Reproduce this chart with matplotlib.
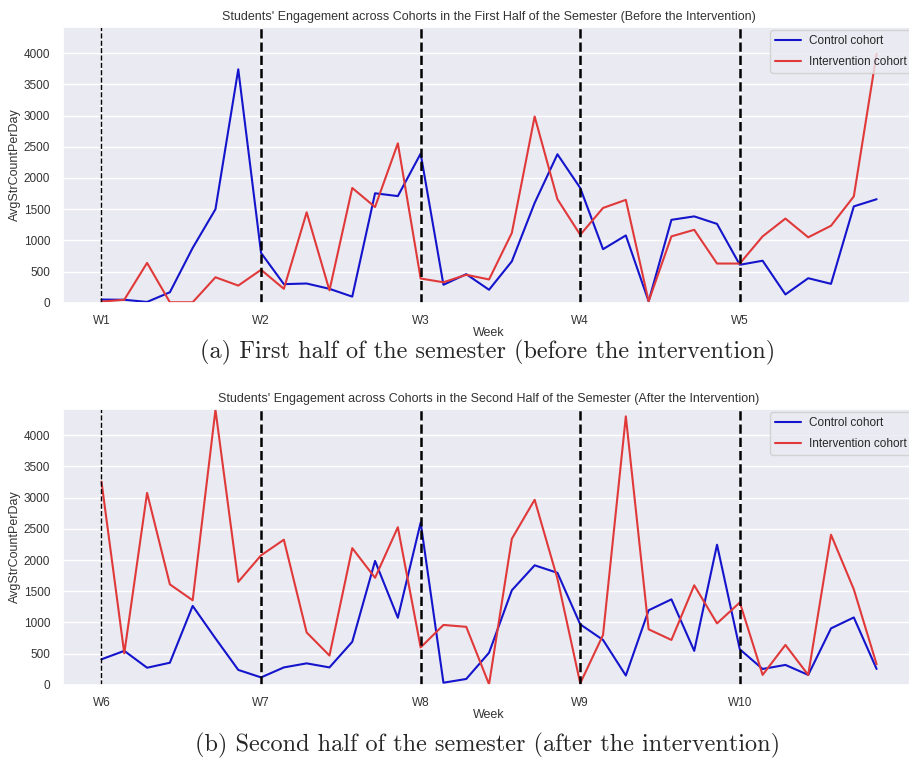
import numpy as np
import matplotlib.pyplot as plt
import seaborn as sns

sns.set_theme(style="darkgrid")
plt.rcParams["font.family"] = ["Liberation Sans", "DejaVu Sans"]

# daily points, 7 per week
days = np.arange(35)
week_days = [0, 7, 14, 21, 28]
weeks_first = ["W1", "W2", "W3", "W4", "W5"]
weeks_second = ["W6", "W7", "W8", "W9", "W10"]

control_first = [53, 50, 15, 170, 880, 1500, 3740, 800, 300, 310, 225, 100, 1755, 1710, 2390,
                 290, 460, 210, 665, 1600, 2380, 1840, 860, 1080, 25, 1330, 1385, 1265, 610,
                 675, 135, 395, 305, 1545, 1660]
intervention_first = [20, 50, 640, 10, 10, 410, 277, 530, 225, 1450, 200, 1840, 1535, 2555, 390,
                      330, 450, 375, 1120, 2985, 1660, 1090, 1520, 1650, 25, 1065, 1170, 630, 630,
                      1065, 1350, 1050, 1235, 1705, 3990]
control_second = [410, 545, 275, 355, 1265, 745, 240, 120, 280, 345, 280, 690, 1985, 1075, 2600,
                  35, 95, 515, 1515, 1915, 1795, 970, 720, 150, 1195, 1370, 545, 2245, 570,
                  255, 320, 160, 905, 1080, 255]
intervention_second = [3255, 505, 3075, 1610, 1355, 4405, 1650, 2075, 2325, 840, 470, 2190, 1715, 2525, 600,
                       960, 930, 10, 2340, 2965, 1700, 25, 800, 4300, 890, 720, 1595, 985, 1320,
                       160, 640, 160, 2405, 1530, 330]

titles = ["Students' Engagement across Cohorts in the First Half of the Semester (Before the Intervention)",
          "Students' Engagement across Cohorts in the Second Half of the Semester (After the Intervention)"]
captions = ["(a) First half of the semester (before the intervention)",
            "(b) Second half of the semester (after the intervention)"]

fig = plt.figure(figsize=(9.09, 7.61), dpi=100)

panels = [
    (0.602, weeks_first, control_first, intervention_first, titles[0], captions[0], 0.537),
    (0.100, weeks_second, control_second, intervention_second, titles[1], captions[1], 0.021),
]

for bottom, wk, ctrl, intv, title, cap, cap_y in panels:
    ax = fig.add_axes([0.069, bottom, 0.938, 0.3627])
    ax.plot(days, ctrl, color="#1414cc", lw=1.5, label="Control cohort")
    ax.plot(days, intv, color="#e0393a", lw=1.5, label="Intervention cohort")
    for i, d in enumerate(week_days):
        ax.axvline(d, color="black", ls="--", lw=1.0 if i == 0 else 1.8)
    ax.set_ylim(0, 4420)
    ax.set_yticks(range(0, 4001, 500))
    ax.set_xticks(week_days, wk)
    ax.tick_params(labelsize=8.5, colors="#333333", pad=3)
    ax.set_xlabel("Week", fontsize=9, labelpad=0, color="#333333")
    ax.set_ylabel("AvgStrCountPerDay", fontsize=9, color="#333333", labelpad=2)
    ax.set_title(title, fontsize=9, color="#333333", pad=5)
    ax.legend(loc="upper right", fontsize=8.5, labelspacing=0.75, handlelength=2.2,
              handletextpad=0.7, borderaxespad=0.3)
    fig.text(0.536, cap_y, cap, family="cmr10", fontsize=17.5, ha="center", va="center")

fig.savefig("out.png", dpi=100)
